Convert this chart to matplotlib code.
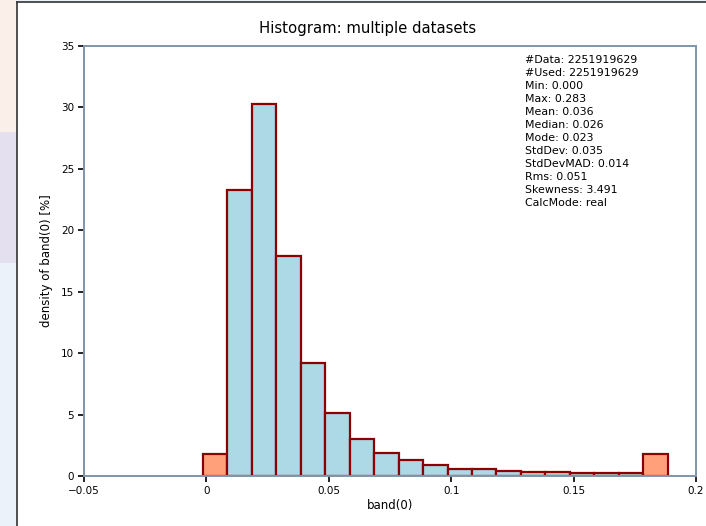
import numpy as np
import matplotlib
matplotlib.use('Agg')
import matplotlib.pyplot as plt
from matplotlib.patches import Rectangle

# Histogram bins (width 0.01) and densities [%].
# The bars sit a little left of the ticks in the reference.
bin_left = [-0.0015, 0.0085, 0.0185, 0.0285, 0.0385, 0.0485, 0.0585, 0.0685,
            0.0785, 0.0885, 0.0985, 0.1085, 0.1185, 0.1285, 0.1385, 0.1485,
            0.1585, 0.1685, 0.1785]
density = [1.8, 23.3, 30.3, 17.9, 9.2, 5.1, 3.0, 1.85, 1.27, 0.9,
           0.6, 0.54, 0.38, 0.3, 0.3, 0.24, 0.24, 0.24, 1.8]
# first and last bins are the under/overflow bins drawn in salmon
outlier = [True] + [False] * 17 + [True]

stats_lines = [
    '#Data: 2251919629',
    '#Used: 2251919629',
    'Min: 0.000',
    'Max: 0.283',
    'Mean: 0.036',
    'Median: 0.026',
    'Mode: 0.023',
    'StdDev: 0.035',
    'StdDevMAD: 0.014',
    'Rms: 0.051',
    'Skewness: 3.491',
    'CalcMode: real',
]

W, H = 706, 526
fig = plt.figure(figsize=(W / 100, H / 100), dpi=100)
fig.patch.set_facecolor('#ecf2fa')

# Faint background behind the white panel.
fig.patches.append(Rectangle((0, 0.75), 17 / W, 0.25, transform=fig.transFigure,
                             facecolor='#fbefe9', edgecolor='none', zorder=-3))
fig.patches.append(Rectangle((0, 0.5), 17 / W, 0.25, transform=fig.transFigure,
                             facecolor='#e4e0ef', edgecolor='none', zorder=-3))

# White panel with a dark top/left border.
fig.patches.append(Rectangle((17 / W, 0), 1 - 17 / W, 1 - 2 / H,
                             transform=fig.transFigure, facecolor='white',
                             edgecolor='none', zorder=-2))
fig.lines.append(plt.Line2D([17 / W, 17 / W], [0, 1 - 2 / H], transform=fig.transFigure,
                            color='#333333', lw=1.2, zorder=-1))
fig.lines.append(plt.Line2D([17 / W, 1], [1 - 2 / H, 1 - 2 / H], transform=fig.transFigure,
                            color='#333333', lw=1.2, zorder=-1))

ax = fig.add_axes([84 / W, 1 - 476 / H, (696 - 84) / W, (476 - 46) / H])
ax.set_facecolor('none')

colors = ['#ffa07a' if o else '#add8e6' for o in outlier]
ax.bar(bin_left, density, width=0.01, align='edge', color=colors,
       edgecolor='#8b0000', linewidth=1.6, zorder=2)

ax.set_xlim(-0.05, 0.2)
ax.set_ylim(0, 35)
ax.set_xticks([-0.05, 0, 0.05, 0.1, 0.15, 0.2])
ax.set_xticklabels(['\u22120.05', '0', '0.05', '0.1', '0.15', '0.2'])
ax.set_yticks(range(0, 36, 5))
ax.tick_params(direction='out', length=4, width=1.2, color='black',
               labelsize=7.5, pad=3)
for s in ax.spines.values():
    s.set_color('#8095aa')
    s.set_linewidth(1.4)

ax.set_xlabel('band(0)', fontsize=8.5, labelpad=2)
ax.set_ylabel('density of band(0) [%]', fontsize=8.5, labelpad=6)

fig.text(368 / W, 1 - 28 / H, 'Histogram: multiple datasets', fontsize=10.7,
         ha='center', va='center')

ax.text(525 / W, 1 - 55 / H, '\n'.join(stats_lines), transform=fig.transFigure,
        fontsize=7.9, va='top', ha='left', linespacing=1.38)

fig.savefig('out.png', dpi=100, facecolor=fig.get_facecolor())
